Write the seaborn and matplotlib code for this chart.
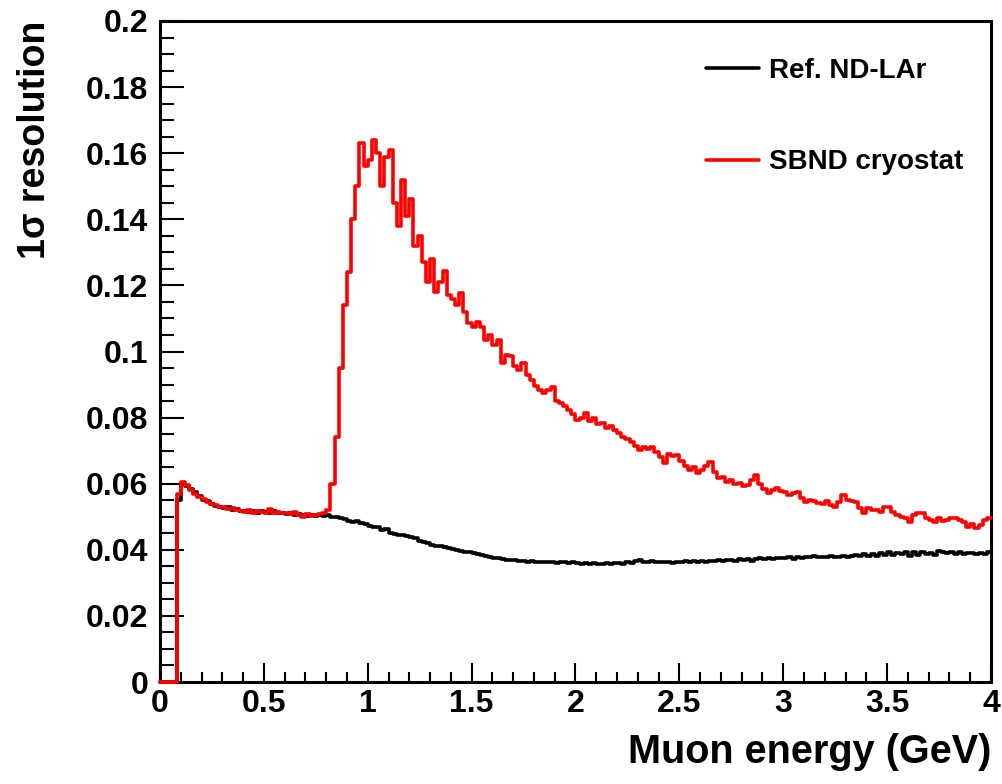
import numpy as np
import pandas as pd
import matplotlib
matplotlib.use("Agg")
import matplotlib.pyplot as plt
import seaborn as sns
from matplotlib.ticker import MultipleLocator, FuncFormatter
from matplotlib.lines import Line2D

# Histogram binning in muon energy (GeV)
bin_width = 0.02
energy_edges = np.round(np.arange(0.0, 4.0 + bin_width / 2, bin_width), 4)

# 1-sigma resolution per energy bin, reference ND-LAr geometry
ref_ndlar = [
    0, 0, 0, 0, 0.0550, 0.0598, 0.0592, 0.0585, 0.0575, 0.0562,
    0.0552, 0.0548, 0.0538, 0.0532, 0.0528, 0.0525, 0.0528, 0.0520, 0.0522, 0.0516,
    0.0518, 0.0515, 0.0518, 0.0512, 0.0516, 0.0514, 0.0512, 0.0516, 0.0510, 0.0512,
    0.0508, 0.0512, 0.0506, 0.0508, 0.0504, 0.0502, 0.0506, 0.0503, 0.0505, 0.0502,
    0.0505, 0.0500, 0.0498, 0.0495, 0.0492, 0.0488, 0.0485, 0.0486, 0.0482, 0.0478,
    0.0472, 0.0470, 0.0468, 0.0460, 0.0462, 0.0452, 0.0448, 0.0446, 0.0445, 0.0443,
    0.0438, 0.0436, 0.0428, 0.0424, 0.0420, 0.0416, 0.0412, 0.0412, 0.0408, 0.0404,
    0.0402, 0.0398, 0.0395, 0.0394, 0.0392, 0.0390, 0.0386, 0.0385, 0.0382, 0.0378,
    0.0376, 0.0374, 0.0372, 0.0369, 0.0368, 0.0368, 0.0366, 0.0367, 0.0364, 0.0365,
    0.0363, 0.0364, 0.0362, 0.0363, 0.0364, 0.0361, 0.0362, 0.0363, 0.0361, 0.0362,
    0.0360, 0.0358, 0.0361, 0.0357, 0.0359, 0.0356, 0.0358, 0.0360, 0.0357, 0.0359,
    0.0360, 0.0358, 0.0362, 0.0361, 0.0366, 0.0368, 0.0364, 0.0362, 0.0365, 0.0363,
    0.0362, 0.0364, 0.0363, 0.0361, 0.0364, 0.0362, 0.0365, 0.0363, 0.0366, 0.0364,
    0.0366, 0.0364, 0.0367, 0.0365, 0.0368, 0.0366, 0.0369, 0.0368, 0.0367, 0.0371,
    0.0368, 0.0372, 0.0366, 0.0372, 0.0374, 0.0371, 0.0375, 0.0372, 0.0376, 0.0374,
    0.0375, 0.0378, 0.0373, 0.0377, 0.0376, 0.0379, 0.0377, 0.0381, 0.0378, 0.0379,
    0.0378, 0.0380, 0.0379, 0.0378, 0.0382, 0.0379, 0.0381, 0.0385, 0.0380, 0.0388,
    0.0382, 0.0386, 0.0380, 0.0391, 0.0383, 0.0392, 0.0384, 0.0390, 0.0386, 0.0393,
    0.0382, 0.0392, 0.0385, 0.0394, 0.0388, 0.0391, 0.0384, 0.0395, 0.0393, 0.0389,
    0.0392, 0.0388, 0.0394, 0.0387, 0.0391, 0.0389, 0.0386, 0.0390, 0.0387, 0.0393,
]

# 1-sigma resolution per energy bin, SBND cryostat geometry
sbnd_cryostat = [
    0, 0, 0, 0, 0.0570, 0.0605, 0.0595, 0.0580, 0.0570, 0.0560,
    0.0555, 0.0545, 0.0540, 0.0535, 0.0530, 0.0528, 0.0522, 0.0525, 0.0520, 0.0518,
    0.0515, 0.0520, 0.0512, 0.0518, 0.0515, 0.0510, 0.0522, 0.0512, 0.0515, 0.0510,
    0.0512, 0.0508, 0.0515, 0.0505, 0.0498, 0.0508, 0.0502, 0.0505, 0.0508, 0.0512,
    0.0520, 0.0600, 0.0740, 0.0950, 0.1140, 0.1240, 0.1400, 0.1500, 0.1630, 0.1560,
    0.1580, 0.1640, 0.1600, 0.1500, 0.1590, 0.1610, 0.1450, 0.1380, 0.1520, 0.1410,
    0.1460, 0.1320, 0.1350, 0.1270, 0.1210, 0.1280, 0.1180, 0.1210, 0.1245, 0.1170,
    0.1160, 0.1140, 0.1177, 0.1120, 0.1086, 0.1075, 0.1090, 0.1075, 0.1035, 0.1050,
    0.1020, 0.1035, 0.0965, 0.0990, 0.0985, 0.0955, 0.0944, 0.0965, 0.0930, 0.0914,
    0.0895, 0.0884, 0.0874, 0.0885, 0.0893, 0.0850, 0.0844, 0.0835, 0.0823, 0.0810,
    0.0793, 0.0800, 0.0813, 0.0790, 0.0800, 0.0780, 0.0783, 0.0770, 0.0775, 0.0762,
    0.0753, 0.0740, 0.0735, 0.0725, 0.0715, 0.0702, 0.0712, 0.0705, 0.0710, 0.0695,
    0.0680, 0.0662, 0.0690, 0.0685, 0.0687, 0.0670, 0.0655, 0.0641, 0.0650, 0.0632,
    0.0640, 0.0655, 0.0666, 0.0635, 0.0617, 0.0620, 0.0605, 0.0610, 0.0598, 0.0602,
    0.0594, 0.0596, 0.0610, 0.0626, 0.0600, 0.0585, 0.0572, 0.0580, 0.0587, 0.0578,
    0.0575, 0.0566, 0.0572, 0.0575, 0.0558, 0.0545, 0.0552, 0.0548, 0.0542, 0.0540,
    0.0548, 0.0535, 0.0530, 0.0545, 0.0566, 0.0552, 0.0548, 0.0545, 0.0525, 0.0511,
    0.0525, 0.0520, 0.0520, 0.0515, 0.0528, 0.0530, 0.0515, 0.0505, 0.0500, 0.0495,
    0.0485, 0.0505, 0.0510, 0.0511, 0.0495, 0.0490, 0.0485, 0.0495, 0.0488, 0.0490,
    0.0495, 0.0496, 0.0490, 0.0485, 0.0470, 0.0478, 0.0466, 0.0475, 0.0490, 0.0495,
]

series_names = ["Ref. ND-LAr", "SBND cryostat"]
series_colors = ["#000000", "#ff0000"]

sns.set_theme(style="ticks")
plt.rcParams["font.family"] = ["Liberation Sans", "DejaVu Sans"]
plt.rcParams["font.weight"] = "bold"
plt.rcParams["axes.edgecolor"] = "black"
plt.rcParams["text.color"] = "black"
plt.rcParams["axes.labelcolor"] = "black"

# Long-form table: each step curve carries the last value to the final edge
frames = []
for name, vals in zip(series_names, [ref_ndlar, sbnd_cryostat]):
    heights = list(vals) + [vals[-1]]
    frames.append(pd.DataFrame({"energy": energy_edges,
                                "resolution": heights,
                                "series": name}))
df = pd.concat(frames, ignore_index=True)

W, H = 1003, 784
fig = plt.figure(figsize=(W / 100, H / 100), dpi=100)
fig.patch.set_facecolor("white")
ax = fig.add_axes([160 / W, 1 - 682 / H, (991 - 160) / W, (682 - 21) / H])
ax.set_facecolor("white")

line_w = 2.6
sns.lineplot(data=df, x="energy", y="resolution", hue="series",
             palette=dict(zip(series_names, series_colors)),
             drawstyle="steps-post", linewidth=line_w, estimator=None,
             sort=False, legend=False, ax=ax)
# Let the curves sit on top of the frame where they run along the axis
for ln in ax.get_lines():
    ln.set_zorder(3)
    ln.set_clip_on(False)

ax.set_xlim(0, 4)
ax.set_ylim(0, 0.2)

ax.xaxis.set_major_locator(MultipleLocator(0.5))
ax.xaxis.set_minor_locator(MultipleLocator(0.1))
ax.yaxis.set_major_locator(MultipleLocator(0.02))
ax.yaxis.set_minor_locator(MultipleLocator(0.005))
fmt = FuncFormatter(lambda v, _: f"{v:g}")
ax.xaxis.set_major_formatter(fmt)
ax.yaxis.set_major_formatter(fmt)

ax.tick_params(axis="both", which="both", direction="in", top=False,
               right=False, bottom=True, left=True, color="black",
               width=1.5, labelcolor="black")
ax.tick_params(axis="x", which="major", length=14, pad=5, labelsize=23)
ax.tick_params(axis="x", which="minor", length=7)
ax.tick_params(axis="y", which="major", length=17, pad=8.5, labelsize=23)
ax.tick_params(axis="y", which="minor", length=10)
for lbl in ax.get_xticklabels() + ax.get_yticklabels():
    lbl.set_fontweight("bold")

for side in ["left", "right", "top", "bottom"]:
    ax.spines[side].set_visible(True)
    ax.spines[side].set_color("black")
    ax.spines[side].set_linewidth(2.2)

ax.set_xlabel("Muon energy (GeV)", fontsize=28.5, fontweight="bold",
              loc="right", color="black")
ax.xaxis.set_label_coords(1.0, (682 - 733) / 661)
ax.set_ylabel("1σ resolution", fontsize=27, fontweight="bold",
              loc="top", color="black")
ax.yaxis.set_label_coords((53 - 160) / 831, 1.0)

handles = [Line2D([], [], color=c, linewidth=line_w) for c in series_colors]
ax.legend(handles=handles, labels=series_names, loc="upper left",
          bbox_to_anchor=(706 / W, 1 - 58 / H), bbox_transform=fig.transFigure,
          frameon=False, prop={"weight": "bold", "size": 20},
          labelcolor="black", handlelength=1.9, handletextpad=0.36,
          labelspacing=2.35, borderpad=0, borderaxespad=0)

fig.savefig("out.png", dpi=100, facecolor="white")
